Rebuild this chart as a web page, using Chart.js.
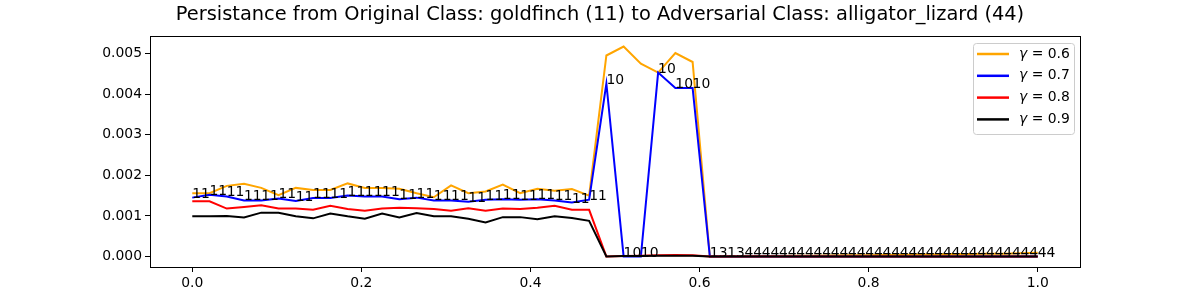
<!DOCTYPE html>
<html>
<head>
<meta charset="utf-8">
<script src="https://cdn.jsdelivr.net/npm/chart.js@4.4.0/dist/chart.umd.min.js"></script>
<style>
    html, body { margin: 0; padding: 0; background: #fff; }
    #chartPic { display: block; }
</style>
</head>
<body>
<canvas id="chartPic" width="1200" height="300"></canvas>
<script>
// x positions (50 evenly spaced steps from 0 to 1)
const steps = [0, 0.0204, 0.0408, 0.0612, 0.0816, 0.1020, 0.1224, 0.1429, 0.1633, 0.1837,
    0.2041, 0.2245, 0.2449, 0.2653, 0.2857, 0.3061, 0.3265, 0.3469, 0.3673, 0.3878,
    0.4082, 0.4286, 0.4490, 0.4694, 0.4898, 0.5102, 0.5306, 0.5510, 0.5714, 0.5918,
    0.6122, 0.6327, 0.6531, 0.6735, 0.6939, 0.7143, 0.7347, 0.7551, 0.7755, 0.7959,
    0.8163, 0.8367, 0.8571, 0.8776, 0.8980, 0.9184, 0.9388, 0.9592, 0.9796, 1.0];

const gamma06 = [0.00156, 0.00156, 0.00174, 0.00179, 0.00169, 0.00151, 0.00169, 0.00164, 0.00164, 0.00180,
    0.00169, 0.00169, 0.00167, 0.00156, 0.00146, 0.00175, 0.00156, 0.00160, 0.00177, 0.00156,
    0.00167, 0.00162, 0.00166, 0.00150, 0.00495, 0.00517, 0.00475, 0.00453, 0.00501, 0.00479,
    0.0, 0.000005, 0.00001, 0.00001, 0.000015, 0.00002, 0.00002, 0.000025, 0.00003, 0.00003,
    0.00004, 0.00004, 0.00005, 0.00005, 0.00006, 0.00006, 0.00007, 0.00007, 0.00008, 0.00009];

const gamma07 = [0.00145, 0.00152, 0.00148, 0.00138, 0.00138, 0.00143, 0.00137, 0.00144, 0.00144, 0.00150,
    0.00148, 0.00148, 0.00141, 0.00145, 0.00138, 0.00138, 0.00135, 0.00140, 0.00141, 0.00140,
    0.00141, 0.00138, 0.00133, 0.00140, 0.00426, 0.0, 0.0, 0.00453, 0.00415, 0.00415,
    0, 0, 0, 0, 0, 0, 0, 0, 0, 0,
    0, 0, 0, 0, 0, 0, 0, 0, 0, 0];

const gamma08 = [0.00136, 0.00136, 0.00118, 0.00122, 0.00126, 0.00118, 0.00118, 0.00115, 0.00125, 0.00117,
    0.00113, 0.00118, 0.00120, 0.00119, 0.00117, 0.00113, 0.00119, 0.00113, 0.00118, 0.00117,
    0.00120, 0.00125, 0.00115, 0.00115, 0.0, 0.00001, 0.00002, 0.00003, 0.00004, 0.00003,
    0, 0, 0, 0, 0, 0, 0, 0, 0, 0,
    0, 0, 0, 0, 0, 0, 0, 0, 0, 0];

const gamma09 = [0.00099, 0.00099, 0.00100, 0.00096, 0.00108, 0.00108, 0.00099, 0.00094, 0.00106, 0.00099,
    0.00093, 0.00106, 0.00096, 0.00107, 0.00099, 0.00099, 0.00093, 0.00084, 0.00097, 0.00097,
    0.00092, 0.00099, 0.00095, 0.00088, 0.0, 0.00001, 0.00001, 0.00002, 0.00002, 0.00002,
    0, 0, 0, 0, 0, 0, 0, 0, 0, 0,
    0, 0, 0, 0, 0, 0, 0, 0, 0, 0];

// predicted class at each step (annotated on the gamma = 0.7 line)
const classLabels = ['11', '11', '11', '11', '11', '11', '11', '11', '11', '11',
    '11', '11', '11', '11', '11', '11', '11', '11', '11', '11',
    '11', '11', '11', '11', '10', '10', '10', '10', '10', '10',
    '13', '13', '44', '44', '44', '44', '44', '44', '44', '44',
    '44', '44', '44', '44', '44', '44', '44', '44', '44', '44'];

const seriesNames = ['0.6', '0.7', '0.8', '0.9'];
const xTicks = [0, 0.2, 0.4, 0.6, 0.8, 1.0];
const yTicks = [0, 0.001, 0.002, 0.003, 0.004, 0.005];
const titleText = 'Persistance from Original Class: goldfinch (11) to Adversarial Class: alligator_lizard (44)';

const FONT = "'DejaVu Sans', sans-serif";

function toPoints(values) {
    return values.map(function (v, i) {
        return {x: steps[i], y: v};
    });
}

const framePlugin = {
    id: 'frame',
    afterDraw: function (chart) {
        const ctx = chart.ctx;
        const a = chart.chartArea;
        ctx.save();
        ctx.strokeStyle = '#000';
        ctx.lineWidth = 1;
        ctx.strokeRect(Math.round(a.left) + 0.5, Math.round(a.top) + 0.5,
            Math.round(a.right - a.left), Math.round(a.bottom - a.top));

        // title
        ctx.fillStyle = '#000';
        ctx.font = '19.4px ' + FONT;
        ctx.textAlign = 'center';
        ctx.textBaseline = 'middle';
        ctx.fillText(titleText, 600, 15);

        // legend
        const bx = 973, by = 43, bw = 101, bh = 91;
        ctx.beginPath();
        ctx.roundRect(bx + 0.5, by + 0.5, bw, bh, 3);
        ctx.fillStyle = 'rgba(255,255,255,0.8)';
        ctx.fill();
        ctx.strokeStyle = '#cccccc';
        ctx.stroke();
        chart.data.datasets.forEach(function (ds, i) {
            const y = 54 + i * 21.8;
            ctx.beginPath();
            ctx.strokeStyle = ds.borderColor;
            ctx.lineWidth = 2.5;
            ctx.moveTo(977, y);
            ctx.lineTo(1009, y);
            ctx.stroke();
            ctx.fillStyle = '#000';
            ctx.textAlign = 'left';
            ctx.textBaseline = 'middle';
            ctx.font = 'italic 13.9px ' + FONT;
            ctx.fillText('\u03b3', 1019, y);
            const gw = ctx.measureText('\u03b3').width;
            ctx.font = '13.9px ' + FONT;
            ctx.fillText(' = ' + seriesNames[i], 1019 + gw, y);
        });
        ctx.restore();
    },
    afterDatasetsDraw: function (chart) {
        const ctx = chart.ctx;
        const meta = chart.getDatasetMeta(1);
        ctx.save();
        ctx.fillStyle = '#000';
        ctx.font = '13.9px ' + FONT;
        ctx.textAlign = 'left';
        ctx.textBaseline = 'alphabetic';
        meta.data.forEach(function (pt, i) {
            ctx.fillText(classLabels[i], pt.x, pt.y);
        });
        ctx.restore();
    }
};

const ctx = document.getElementById('chartPic');
const myChart = new Chart(ctx, {
    type: 'line',
    data: {
        datasets: [
            {label: '\u03b3 = 0.6', data: toPoints(gamma06), borderColor: '#FFA500', order: 4},
            {label: '\u03b3 = 0.7', data: toPoints(gamma07), borderColor: '#0000FF', order: 3},
            {label: '\u03b3 = 0.8', data: toPoints(gamma08), borderColor: '#FF0000', order: 2},
            {label: '\u03b3 = 0.9', data: toPoints(gamma09), borderColor: '#000000', order: 1}
        ]
    },
    options: {
        responsive: false,
        animation: false,
        layout: {
            padding: {left: 0, right: 120, top: 36, bottom: 0}
        },
        elements: {
            point: {radius: 0},
            line: {borderWidth: 2, tension: 0, fill: false}
        },
        scales: {
            x: {
                type: 'linear',
                min: -0.05,
                max: 1.05,
                afterBuildTicks: function (scale) {
                    scale.ticks = xTicks.map(function (v) { return {value: v}; });
                },
                afterFit: function (scale) { scale.height = 33; },
                ticks: {
                    color: '#000',
                    padding: 3,
                    maxRotation: 0,
                    font: {size: 13.9, family: FONT},
                    callback: function (value) { return Number(value).toFixed(1); }
                },
                grid: {drawOnChartArea: false, drawTicks: true, tickLength: 5, color: '#000'},
                border: {display: true, color: '#000'}
            },
            y: {
                type: 'linear',
                min: -0.000258,
                max: 0.00543,
                afterBuildTicks: function (scale) {
                    scale.ticks = yTicks.map(function (v) { return {value: v}; });
                },
                afterFit: function (scale) { scale.width = 150; },
                ticks: {
                    color: '#000',
                    padding: 3,
                    font: {size: 13.9, family: FONT},
                    callback: function (value) { return Number(value).toFixed(3); }
                },
                grid: {drawOnChartArea: false, drawTicks: true, tickLength: 5, color: '#000'},
                border: {display: true, color: '#000'}
            }
        },
        plugins: {
            legend: {display: false},
            title: {display: false},
            tooltip: {enabled: false}
        }
    },
    plugins: [framePlugin]
});
</script>
</body>
</html>
